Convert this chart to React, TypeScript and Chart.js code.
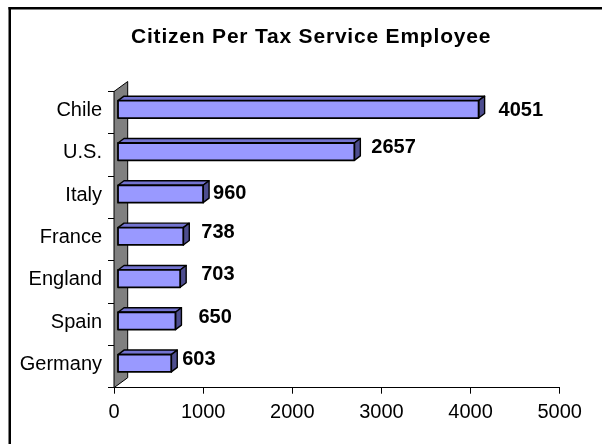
import React, { useEffect, useRef } from "react";
import { Chart, registerables } from "chart.js";

Chart.register(...registerables);

const TITLE = "Citizen Per Tax Service Employee";
const countries = ["Chile", "U.S.", "Italy", "France", "England", "Spain", "Germany"];
const citizensPerEmployee = [4051, 2657, 960, 738, 703, 650, 603];
const xTickValues = [0, 1000, 2000, 3000, 4000, 5000];
// label placement nudges (pixels), Excel-style uneven placement
const labelNudgeX = [14, 11, 4, 12, 15, 17, 5];
const labelNudgeY = [1, -4, -1, -3.5, -4, -3.5, -3.5];

const FONT = "'Liberation Sans', Arial, Helvetica, sans-serif";

const WALL_DX = 13.7;
const WALL_DY = -10;
const BAR_OX = 3.5;
const BAR_OY = -3.3;
const BAR_DX = 6;
const BAR_DY = -4.5;

const excel3d = {
  id: "excel3d",
  beforeDraw(chart: any) {
    const ctx = chart.ctx;
    ctx.save();
    ctx.fillStyle = "#ffffff";
    ctx.fillRect(0, 0, chart.width, chart.height);
    ctx.fillStyle = "#000000";
    ctx.fillRect(8.5, 7, chart.width, 2.5);
    ctx.fillRect(8.5, 7, 2.5, chart.height);
    ctx.restore();
  },
  beforeDatasetsDraw(chart: any) {
    const ctx = chart.ctx;
    const { left, top, bottom } = chart.chartArea;
    ctx.save();
    ctx.beginPath();
    ctx.moveTo(left, top);
    ctx.lineTo(left + WALL_DX, top + WALL_DY);
    ctx.lineTo(left + WALL_DX, bottom + WALL_DY);
    ctx.lineTo(left, bottom);
    ctx.closePath();
    ctx.fillStyle = "#808080";
    ctx.fill();
    ctx.strokeStyle = "#000000";
    ctx.lineWidth = 1;
    ctx.stroke();
    ctx.restore();
  },
  afterDatasetsDraw(chart: any) {
    const ctx = chart.ctx;
    const meta = chart.getDatasetMeta(0);
    ctx.save();
    ctx.lineJoin = "round";
    meta.data.forEach((el: any, i: number) => {
      const { x, y, base, height } = el.getProps(["x", "y", "base", "height"], true);
      const x0 = base + BAR_OX;
      const x1 = x + BAR_OX;
      const yc = y + BAR_OY;
      const yt = yc - height / 2;
      const yb = yc + height / 2;
      ctx.strokeStyle = "#000000";
      ctx.lineWidth = 1.4;
      // top face
      ctx.beginPath();
      ctx.moveTo(x0, yt);
      ctx.lineTo(x0 + BAR_DX, yt + BAR_DY);
      ctx.lineTo(x1 + BAR_DX, yt + BAR_DY);
      ctx.lineTo(x1, yt);
      ctx.closePath();
      ctx.fillStyle = "#7373D0";
      ctx.fill();
      ctx.stroke();
      // side face
      ctx.beginPath();
      ctx.moveTo(x1, yt);
      ctx.lineTo(x1 + BAR_DX, yt + BAR_DY);
      ctx.lineTo(x1 + BAR_DX, yb + BAR_DY);
      ctx.lineTo(x1, yb);
      ctx.closePath();
      ctx.fillStyle = "#4D4D8F";
      ctx.fill();
      ctx.stroke();
      // front face
      ctx.beginPath();
      ctx.rect(x0, yt, x1 - x0, yb - yt);
      ctx.fillStyle = "#9999FF";
      ctx.fill();
      ctx.lineWidth = 1.8;
      ctx.stroke();
      // value label
      ctx.fillStyle = "#000000";
      ctx.font = `bold 20px ${FONT}`;
      ctx.textAlign = "left";
      ctx.textBaseline = "middle";
      ctx.fillText(
        String(citizensPerEmployee[i]),
        x1 + BAR_DX + labelNudgeX[i],
        yc + labelNudgeY[i]
      );
    });
    ctx.restore();
  },
  afterDraw(chart: any) {
    const ctx = chart.ctx;
    ctx.save();
    ctx.fillStyle = "#000000";
    ctx.font = `bold 21px ${FONT}`;
    (ctx as any).letterSpacing = "0.8px";
    ctx.textAlign = "left";
    ctx.textBaseline = "alphabetic";
    ctx.fillText(TITLE, 131, 43);
    ctx.restore();
  },
};

export default function App() {
  const canvasRef = useRef<HTMLCanvasElement | null>(null);

  useEffect(() => {
    const canvas = canvasRef.current;
    if (!canvas) return;
    const chart = new Chart(canvas, {
      type: "bar",
      data: {
        labels: countries,
        datasets: [
          {
            data: citizensPerEmployee,
            backgroundColor: "rgba(0,0,0,0)",
            borderWidth: 0,
            barPercentage: 0.41,
            categoryPercentage: 1,
          },
        ],
      },
      options: {
        indexAxis: "y",
        responsive: false,
        animation: false,
        devicePixelRatio: 1,
        layout: { padding: { top: 91.5, right: 42.3, left: 0, bottom: 0 } },
        plugins: {
          legend: { display: false },
          title: { display: false },
          tooltip: { enabled: false },
        },
        scales: {
          x: {
            type: "linear",
            min: 0,
            max: 5000,
            afterBuildTicks: (s: any) => {
              s.ticks = xTickValues.map((v) => ({ value: v }));
            },
            afterFit: (s: any) => {
              s.height = 56.3;
            },
            grid: {
              drawOnChartArea: false,
              drawTicks: true,
              tickLength: 6,
              color: "#000000",
              lineWidth: 1,
            },
            border: { display: true, color: "#000000", width: 1 },
            ticks: {
              color: "#000000",
              padding: 7,
              maxRotation: 0,
              font: { family: FONT, size: 20 },
              callback: (v: any) => String(v),
            },
          },
          y: {
            type: "category",
            afterFit: (s: any) => {
              s.width = 114;
            },
            grid: {
              drawOnChartArea: false,
              drawTicks: true,
              tickLength: 6,
              offset: true,
              color: "#000000",
              lineWidth: 1,
            },
            border: { display: true, color: "#000000", width: 1 },
            ticks: {
              color: "#000000",
              padding: 6,
              labelOffset: -2,
              font: { family: FONT, size: 20 },
            },
          },
        },
      },
      plugins: [excel3d],
    });
    return () => chart.destroy();
  }, []);

  return (
    <canvas
      ref={canvasRef}
      width={602}
      height={444}
      style={{ position: "fixed", left: 0, top: 0, display: "block" }}
    />
  );
}
